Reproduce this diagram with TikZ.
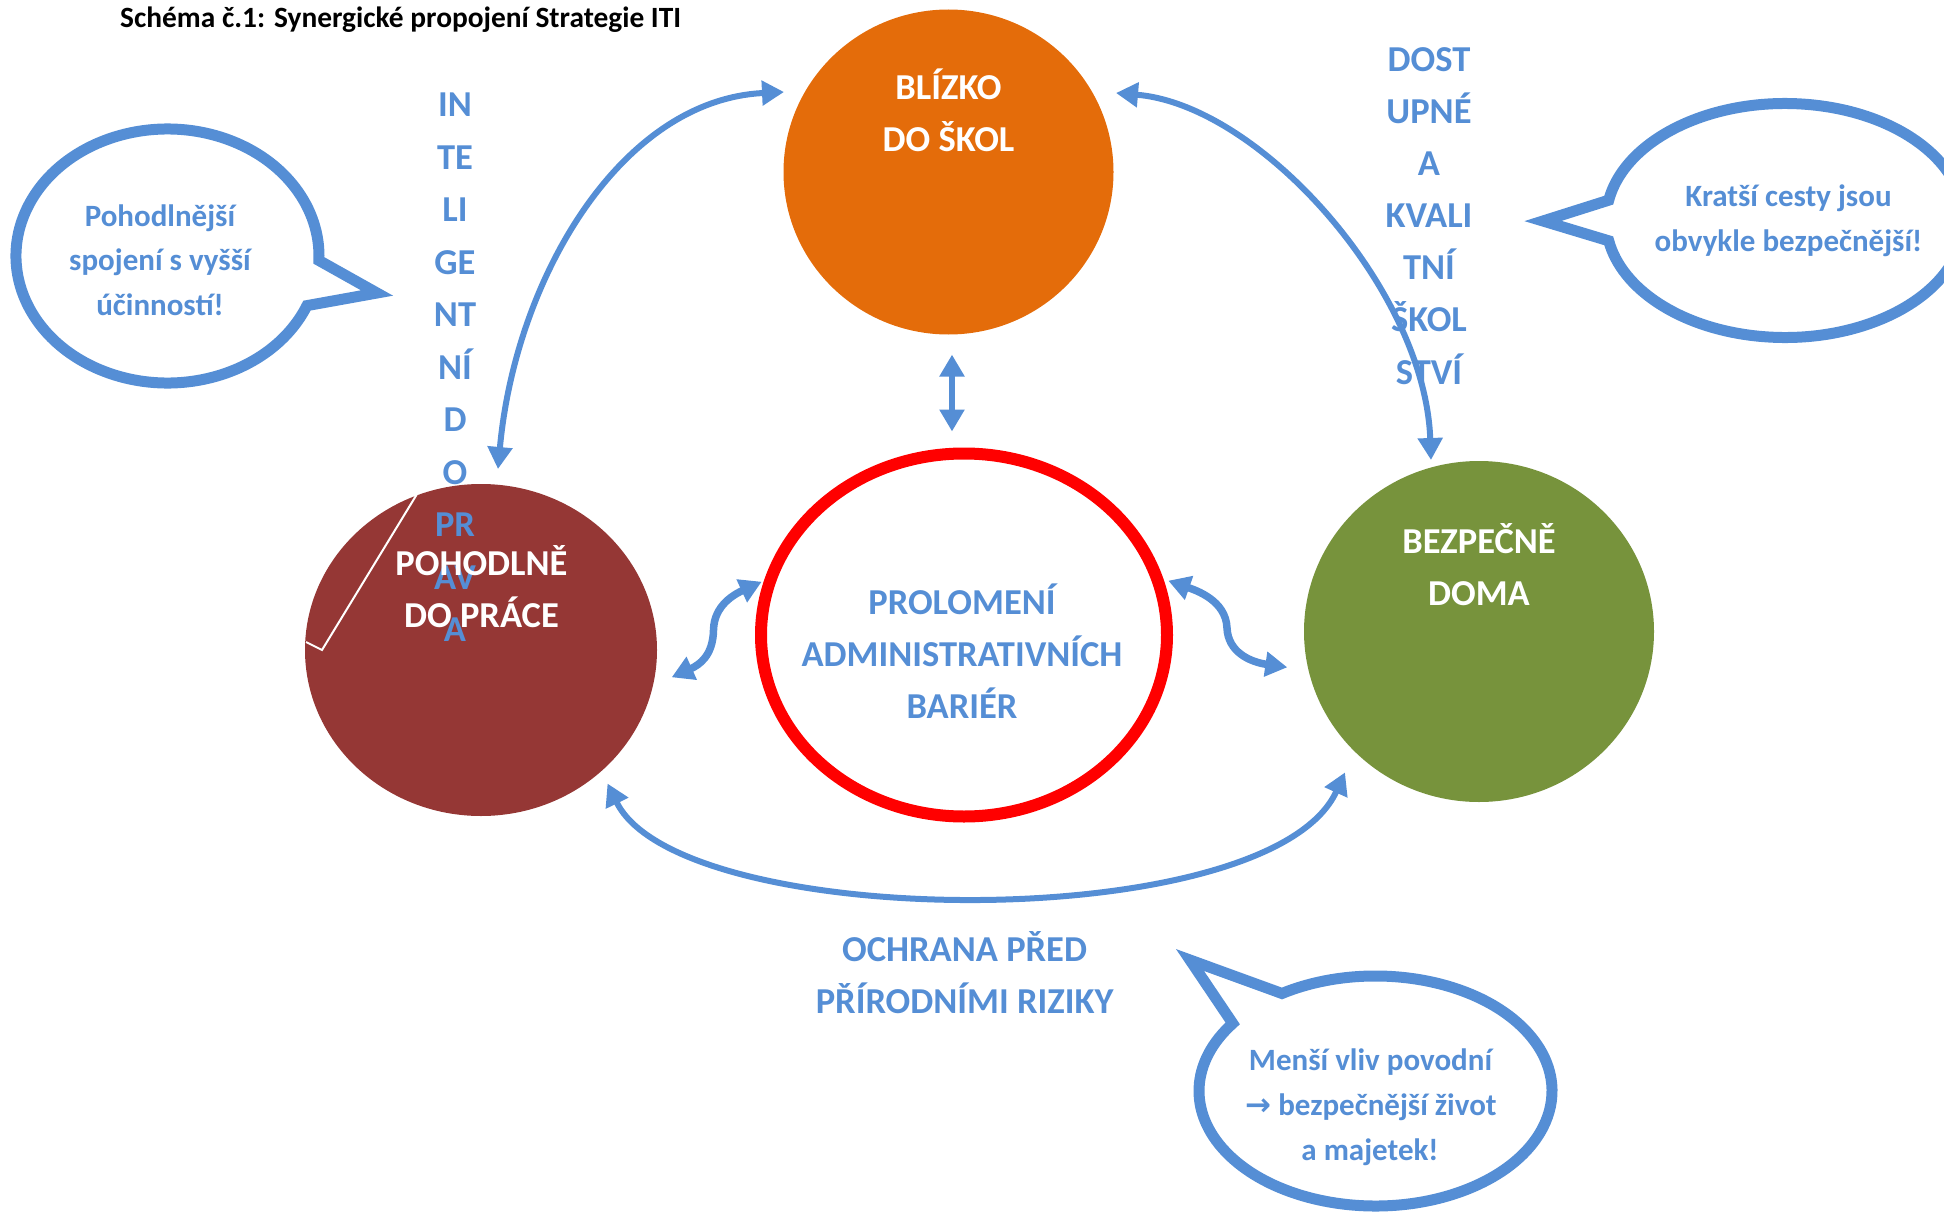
\documentclass[tikz,border=0pt]{standalone}
\usepackage{fontspec}
\setmainfont{Carlito}
\newfontfamily\arrowfont{DejaVu Sans}
\usetikzlibrary{arrows.meta,shapes.geometric}

\definecolor{itiblue}{HTML}{558ED5}
\definecolor{schoolorange}{HTML}{E46C0A}
\definecolor{workred}{HTML}{953735}
\definecolor{homegreen}{HTML}{77933C}
\definecolor{barrierred}{HTML}{FF0000}

\begin{document}
\begin{tikzpicture}[x=1pt, y=-1pt,
  disc/.style={ellipse, inner sep=0pt},
  heading/.style={font=\bfseries\fontsize{29.4}{35}\selectfont, anchor=base west, inner sep=0pt},
  biglabel/.style={font=\bfseries\fontsize{36.5}{44}\selectfont, anchor=base, inner sep=0pt},
  whitelabel/.style={biglabel, text=white},
  bluelabel/.style={biglabel, text=itiblue},
  bubbletext/.style={font=\bfseries\fontsize{31}{38}\selectfont, text=itiblue, anchor=base, inner sep=0pt},
  link/.style={draw=itiblue, line width=6pt, >={Triangle[length=22pt,width=24pt]}, <->},
  wavelink/.style={link, line width=7.5pt},
  bubble/.style={draw=itiblue, line width=11pt, fill=white, line join=miter, miter limit=10},
]
\useasboundingbox (0,0) rectangle (1944,1215);
\clip (0,0) rectangle (1944,1215);

% heading
\node[heading] (heading) at (120,27.5) {Schéma č.1: Synergické propojení Strategie ITI};

% the four main discs
\node[disc, fill=schoolorange, minimum width=330pt, minimum height=325pt] (skoly) at (948.5,172) {};
\node[disc, fill=workred, minimum width=352pt, minimum height=332pt] (prace) at (481,650) {};
\node[disc, fill=homegreen, minimum width=350pt, minimum height=341pt] (doma) at (1479,631.5) {};
\node[disc, draw=barrierred, line width=12pt, minimum width=406pt, minimum height=363pt] (bariery) at (964,635) {};

% thin white stroke on the work disc
\draw[white, line width=2pt, line join=miter] (416.6,494.7) -- (322,650) -- (306,642);

% speech bubbles
\draw[bubble] (167.5,256) ++(23:151.5 and 127)
  arc[start angle=23, end angle=362, x radius=151.5, y radius=127] -- (377,293) -- cycle;
\draw[bubble] (1785,220.5) ++(190:179 and 117)
  arc[start angle=190, end angle=530, x radius=179, y radius=117] -- (1543,221) -- cycle;
\draw[bubble] (1375.5,1091) ++(238:176.5 and 115)
  arc[start angle=238, end angle=576, x radius=176.5, y radius=115] -- (1190,960) -- cycle;

% connector end points
\coordinate (pracetop) at (498,469);
\coordinate (skolyleft) at (784,92);
\coordinate (skolyright) at (1116,93);
\coordinate (domatop) at (1431,460);
\coordinate (pracebottom) at (607.5,783.5);
\coordinate (domabottom) at (1345,772.4);
\coordinate (skolybottom) at (952,354.6);
\coordinate (barierytop) at (952,431.5);
\coordinate (pracebar) at (671.7,677.3);
\coordinate (barleft) at (761.7,581.7);
\coordinate (barright) at (1168.3,580.7);
\coordinate (domabar) at (1287.3,667.3);
\coordinate (leftbend) at (713.5,630);
\coordinate (rightbend) at (1227,628);

% connectors
\draw[link] (pracetop) .. controls (515,280) and (620,100) .. (skolyleft);
\draw[link] (skolyright) .. controls (1260,105) and (1425,290) .. (domatop);
\draw[link] (pracebottom) .. controls (680,932) and (1270,937) .. (domabottom);
\draw[link] (skolybottom) -- (barierytop);
\draw[wavelink] (pracebar) .. controls (699,665) and (713,656) .. (leftbend)
  .. controls (714,605) and (735,594) .. (barleft);
\draw[wavelink] (barright) .. controls (1195,590) and (1226,600) .. (rightbend)
  .. controls (1228,652) and (1250,662) .. (domabar);

% vertical captions
\foreach \t [count=\i] in {IN,TE,LI,GE,NT,NÍ,D,O,PR,AV,A}
  \node[bluelabel] (inteligentni-\i) at (455,{117+52.47*(\i-1)}) {\t};
\foreach \t [count=\i] in {DOST,UPNÉ,A,KVALI,TNÍ,ŠKOL,STVÍ}
  \node[bluelabel] (dostupne-\i) at (1429,{71.7+52.05*(\i-1)}) {\t};

% disc labels
\node[whitelabel] (skoly-1) at (948.5,99.5) {BLÍZKO};
\node[whitelabel] (skoly-2) at (948.5,151.6) {DO ŠKOL};
\node[whitelabel] (prace-1) at (481.5,575) {POHODLNĚ};
\node[whitelabel] (prace-2) at (481.5,627.3) {DO PRÁCE};
\node[whitelabel] (doma-1) at (1479,553) {BEZPEČNĚ};
\node[whitelabel] (doma-2) at (1479,605.5) {DOMA};
\node[bluelabel] (bariery-1) at (962,614) {PROLOMENÍ};
\node[bluelabel] (bariery-2) at (962,666) {ADMINISTRATIVNÍCH};
\node[bluelabel] (bariery-3) at (962,718) {BARIÉR};
\node[bluelabel] (ochrana-1) at (964.6,961) {OCHRANA PŘED};
\node[bluelabel] (ochrana-2) at (964.6,1013) {PŘÍRODNÍMI RIZIKY};

% bubble texts
\node[bubbletext] (pohodli-1) at (160,226) {Pohodlnější};
\node[bubbletext] (pohodli-2) at (160,270.5) {spojení s vyšší};
\node[bubbletext] (pohodli-3) at (160,315) {účinností!};
\node[bubbletext] (cesty-1) at (1788.5,206.7) {Kratší cesty jsou};
\node[bubbletext] (cesty-2) at (1788.5,251.5) {obvykle bezpečnější!};
\node[bubbletext] (povodne-1) at (1370.5,1070.7) {Menší vliv povodní};
\node[bubbletext] (povodne-2) at (1371,1115) {{\arrowfont →} bezpečnější život};
\node[bubbletext] (povodne-3) at (1370,1160) {a majetek!};
\end{tikzpicture}
\end{document}
